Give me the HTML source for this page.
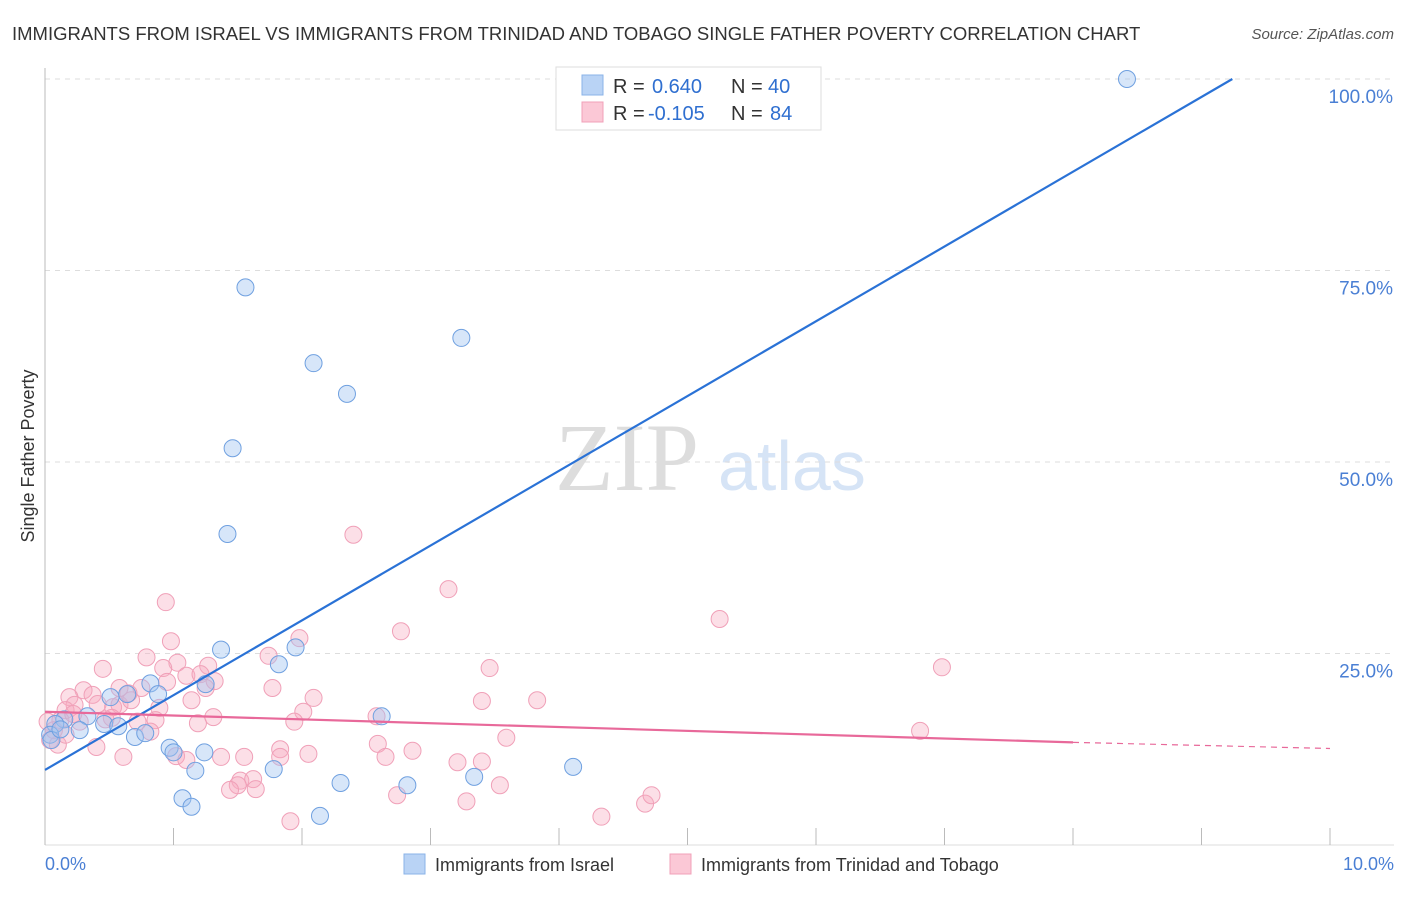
<!DOCTYPE html>
<html><head><meta charset="utf-8"><style>
body{margin:0;background:#fff;font-family:"Liberation Sans",sans-serif;}
</style></head><body>
<svg id="chart" width="1406" height="892" xmlns="http://www.w3.org/2000/svg">
<text x="12" y="40" font-size="18.5" fill="#333">IMMIGRANTS FROM ISRAEL VS IMMIGRANTS FROM TRINIDAD AND TOBAGO SINGLE FATHER POVERTY CORRELATION CHART</text>
<text x="1394" y="39" font-size="15" font-style="italic" fill="#555" text-anchor="end">Source: ZipAtlas.com</text>
<text x="555" y="490" font-family="Liberation Serif,serif" font-size="96" fill="#ddd">ZIP</text>
<text x="718" y="490" font-size="70" fill="#d6e4f6">atlas</text>
<g id="grid"></g>
<g id="axes"></g>
<g id="points"></g>
<g id="lines"></g>
<text transform="translate(34,456) rotate(-90)" font-size="18" fill="#333" text-anchor="middle">Single Father Poverty</text>
<text x="45" y="870" font-size="18" fill="#4a7fd4">0.0%</text>
<text x="1394" y="870" font-size="18" fill="#4a7fd4" text-anchor="end">10.0%</text>
<g id="legendg">
<rect x="556" y="67" width="265" height="63" fill="#fff" stroke="#ddd"/>
<rect x="582" y="75" width="21" height="20" fill="#b9d3f5" stroke="#8ab3e8"/>
<rect x="582" y="102" width="21" height="20" fill="#fbc8d6" stroke="#f0a0b8"/>
<text x="613" y="93" font-size="20" fill="#333">R = </text><text x="652" y="93" font-size="20" fill="#2f6fd0">0.640</text>
<text x="731" y="93" font-size="20" fill="#333">N = </text><text x="768" y="93" font-size="20" fill="#2f6fd0">40</text>
<text x="613" y="120" font-size="20" fill="#333">R = </text><text x="648" y="120" font-size="20" fill="#2f6fd0">-0.105</text>
<text x="731" y="120" font-size="20" fill="#333">N = </text><text x="770" y="120" font-size="20" fill="#2f6fd0">84</text>
</g>
<g>
<rect x="404" y="854" width="21" height="20" fill="#b9d3f5" stroke="#8ab3e8"/>
<text x="435" y="871" font-size="18" fill="#333">Immigrants from Israel</text>
<rect x="670" y="854" width="21" height="20" fill="#fbc8d6" stroke="#f0a0b8"/>
<text x="701" y="871" font-size="18" fill="#333">Immigrants from Trinidad and Tobago</text>
</g>
</svg>
<script>
const yTicks=[25,50,75,100];
const yTickLabels=["25.0%","50.0%","75.0%","100.0%"];
const xTicks=[0,1,2,3,4,5,6,7,8,9,10];
const israelX=[1.56,2.09,2.35,3.24,1.46,1.42,8.42,5.35,1.37,1.95,1.82,1.25,0.82,0.88,0.64,0.51,0.33,0.15,0.08,0.27,0.46,0.57,0.70,0.78,0.04,0.05,0.97,1.0,1.24,1.17,1.78,2.62,3.34,4.11,2.30,2.82,1.07,1.14,2.14,0.12];
const israelY=[72.8,62.9,58.9,66.2,51.8,40.6,100,100,25.5,25.8,23.6,21.0,21.1,19.7,19.7,19.3,16.8,16.4,15.8,15.0,15.8,15.5,14.1,14.6,14.4,13.7,12.7,12.1,12.1,9.7,9.9,16.8,8.9,10.2,8.1,7.8,6.1,5.0,3.8,15.1];
const trinX=[0.94,2.40,3.14,2.77,5.25,6.98,0.98,0.79,1.03,0.92,0.45,1.27,1.74,1.98,3.46,1.10,1.21,1.32,1.25,1.77,1.14,2.09,3.40,3.83,0.30,0.37,0.19,0.23,0.16,0.41,0.53,0.58,0.75,0.67,0.89,0.86,0.82,0.72,0.52,0.12,0.04,0.10,0.40,0.61,1.19,1.31,2.01,1.94,2.58,2.59,1.83,1.83,2.05,1.55,1.37,1.02,1.10,2.65,2.86,3.59,3.21,3.40,3.54,3.28,2.74,1.52,1.62,1.50,1.44,1.64,1.91,4.33,4.67,4.72,6.81,0.22,0.27,0.07,0.65,0.58,0.95,0.02,0.16,0.47];
const trinY=[31.7,40.5,33.4,27.9,29.5,23.2,26.6,24.5,23.8,23.1,23.0,23.4,24.7,27.0,23.1,22.1,22.3,21.4,20.5,20.5,18.9,19.2,18.8,18.9,20.2,19.6,19.3,18.3,17.6,18.4,18.0,18.3,20.5,18.9,17.9,16.3,14.8,16.1,16.6,16.3,13.7,13.1,12.8,11.5,15.9,16.7,17.4,16.1,16.8,13.2,12.5,11.5,11.9,11.5,11.5,11.6,11.1,11.5,12.3,14.0,10.8,10.9,7.8,5.7,6.5,8.4,8.6,7.8,7.2,7.3,3.1,3.7,5.4,6.5,14.9,17.1,16.1,15.0,19.8,20.5,21.3,16.1,14.4,16.4];
const israelFit=[9.8,100];
const israelFitX=[0,9.24];
const trinFit=[17.4,13.4,12.6];
const trinFitX=[0,8,10];
const X=v=>45+v*128.5, Y=v=>845-v*7.66;
const NS="http://www.w3.org/2000/svg";
function mk(tag,attrs,parent){const e=document.createElementNS(NS,tag);for(const k in attrs)e.setAttribute(k,attrs[k]);document.getElementById(parent).appendChild(e);return e;}
yTicks.forEach((t,i)=>{
 const l=mk('line',{x1:45,x2:1394,y1:Y(t),y2:Y(t),stroke:'#ddd','stroke-dasharray':'5,5'},'grid');
 
 
 const tx=mk('text',{x:1393,y:Y(t)+24,'font-size':19,fill:'#4a7fd4','text-anchor':'end'},'grid');
 tx.textContent=yTickLabels[i];
 
 
});
const ax=mk('line',{x1:45,x2:45,y1:68,y2:845,stroke:'#bbb'},'axes');


const bx=mk('line',{x1:45,x2:1394,y1:845,y2:845,stroke:'#ddd'},'axes');


xTicks.forEach(t=>{
 const l=mk('line',{x1:X(t),x2:X(t),y1:828,y2:845,stroke:'#bbb'},'axes');
 
 
});
trinX.forEach((v,i)=>{
 const c=mk('circle',{cx:X(v),cy:Y(trinY[i]),r:8.5,fill:'rgba(246,170,192,0.38)',stroke:'#f0a0b8','stroke-width':1},'points');
 
 
});
israelX.forEach((v,i)=>{
 const c=mk('circle',{cx:X(v),cy:Y(israelY[i]),r:8.5,fill:'rgba(160,196,240,0.42)',stroke:'#6fa0e0','stroke-width':1},'points');
 
 
});
const bl=mk('line',{x1:X(israelFitX[0]),y1:Y(israelFit[0]),x2:X(israelFitX[1]),y2:Y(israelFit[1]),stroke:'#2a72d6','stroke-width':2.2},'lines');


const pl=mk('line',{x1:X(trinFitX[0]),y1:Y(trinFit[0]),x2:X(trinFitX[1]),y2:Y(trinFit[1]),stroke:'#e8699a','stroke-width':2.2},'lines');


const pd=mk('line',{x1:X(trinFitX[1]),y1:Y(trinFit[1]),x2:X(trinFitX[2]),y2:Y(trinFit[2]),stroke:'#e8699a','stroke-width':1.2,'stroke-dasharray':'6,5'},'lines');


</script>
</body></html>
